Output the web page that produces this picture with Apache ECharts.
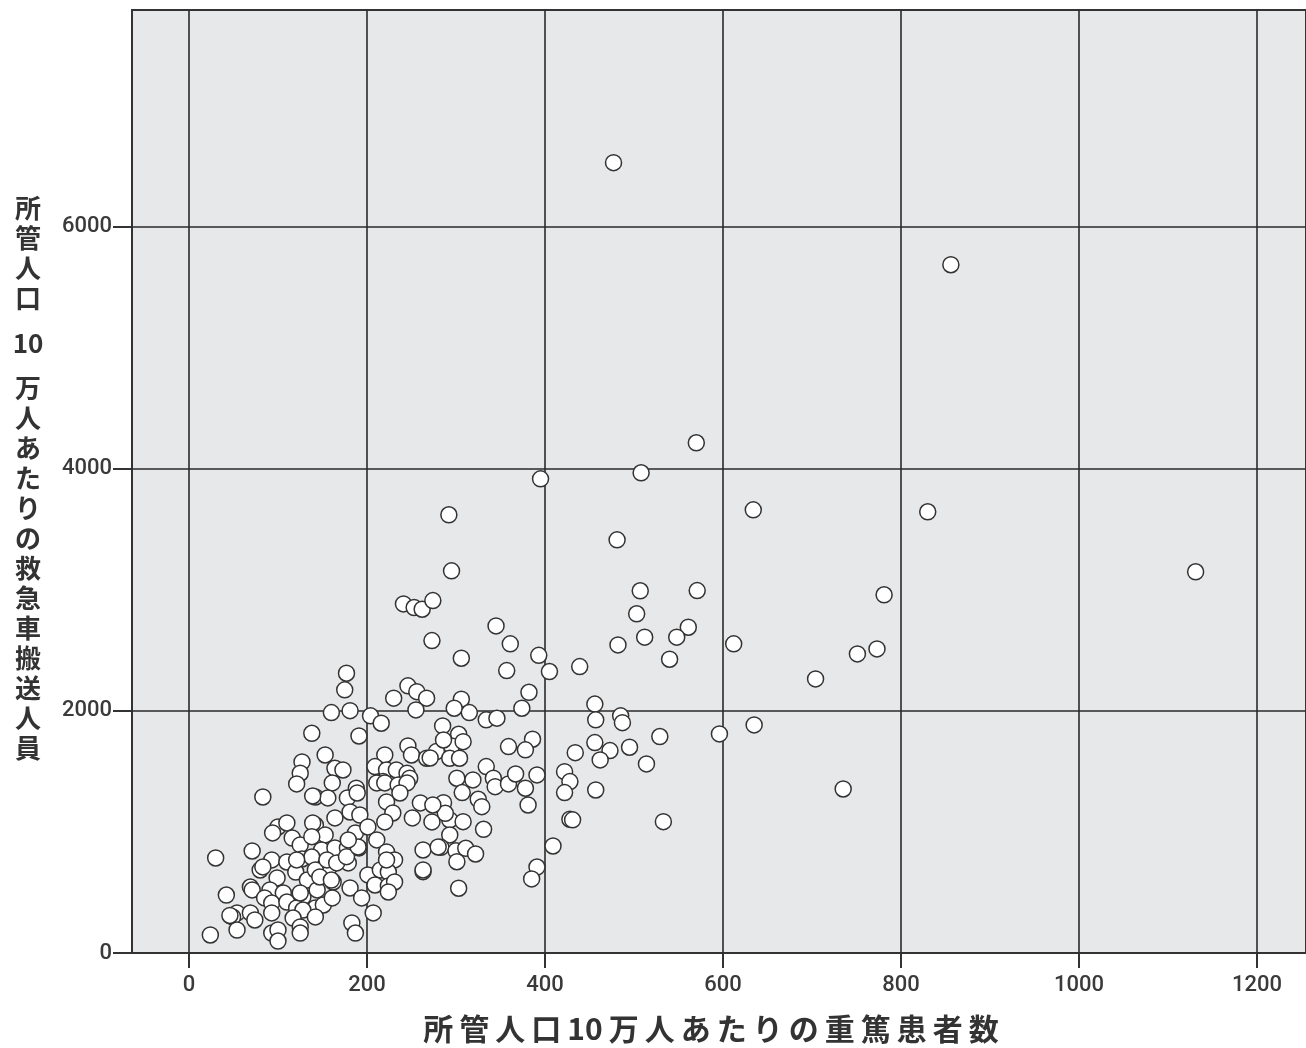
<!DOCTYPE html>
<html><head><meta charset="utf-8">
<script src="https://cdn.jsdelivr.net/npm/echarts@6/dist/echarts.min.js"></script>
<style>html,body{margin:0;padding:0;background:#fff}#c{width:1306px;height:1048px}</style>
</head><body><div id="c"></div>
<script>
const xTicks = [0, 200, 400, 600, 800, 1000, 1200];
const yTicks = [0, 2000, 4000, 6000];
const xTitle = ['所','管','人','口','10','万','人','あ','た','り','の','重','篤','患','者','数'];
const yTitleTop = ['所','管','人','口'];
const yTitleDigits = '10';
const yTitleBottom = ['万','人','あ','た','り','の','救','急','車','搬','送','人','員'];
// [重篤患者数, 救急車搬送人員] per 100,000 population
const points = [
[477,6529],[856,5686],[570,4215],[508,3967],[395,3917],[634,3661],[830,3645],[292,3620],[481,3413],[1131,3149],
[295,3157],[507,2992],[571,2994],[781,2959],[241,2884],[253,2854],[262,2840],[274,2911],[503,2802],[345,2702],
[561,2691],[273,2581],[361,2554],[512,2609],[548,2609],[612,2554],[482,2545],[751,2471],[773,2512],[306,2435],
[393,2459],[540,2427],[357,2333],[405,2325],[439,2366],[704,2264],[177,2311],[175,2174],[246,2207],[382,2154],
[230,2105],[256,2159],[267,2105],[306,2097],[456,2056],[374,2022],[298,2022],[160,1986],[181,2002],[204,1959],
[315,1986],[334,1926],[346,1940],[216,1898],[457,1926],[485,1959],[487,1903],[635,1884],[596,1810],[138,1815],
[191,1793],[285,1876],[303,1807],[295,1711],[386,1766],[359,1705],[378,1678],[434,1655],[529,1788],[473,1672],
[495,1700],[456,1738],[462,1595],[514,1562],[422,1498],[428,1416],[422,1325],[457,1347],[735,1355],[533,1085],
[409,884],[391,710],[385,612],[428,1105],[431,1100],[255,2008],
[153,1636],[164,1526],[173,1512],[220,1636],[209,1540],[222,1512],[233,1512],[246,1711],[250,1636],[267,1609],
[278,1664],[245,1485],[248,1444],[218,1416],[188,1361],[127,1578],[125,1485],[286,1760],[308,1746],[293,1609],
[304,1609],[271,1611],[334,1540],[301,1444],[319,1430],[342,1444],[344,1374],[359,1397],[367,1479],[378,1361],
[391,1471],[307,1325],[325,1270],[329,1209],[381,1223],[286,1242],[293,1099],[308,1085],[288,1154],[331,1022],
[293,975],[283,873],[300,845],[301,754],[311,865],[322,818],[303,535],[263,672],
[161,1405],[142,1289],[156,1281],[178,1281],[189,1322],[211,1405],[220,1405],[235,1388],[245,1405],[237,1322],
[222,1248],[260,1240],[274,1223],[251,1116],[273,1083],[229,1157],[220,1083],[164,1116],[181,1165],[192,1140],
[142,1058],[153,975],[187,992],[201,1041],[211,934],[263,851],[280,876],[263,686],[149,851],[164,868],
[178,868],[191,868],[222,835],[231,769],[179,744],[149,694],[158,711],[201,645],[215,686],[224,669],
[209,562],[224,554],[231,587],[224,504],[181,537],[162,587],[142,372],[151,397],[161,455],[194,455],
[207,331],[183,248],[187,165],
[83,1289],[121,1397],[139,1297],[100,1041],[94,992],[110,1074],[116,950],[125,893],[139,1074],[30,785],
[71,843],[93,769],[110,752],[127,777],[138,793],[80,686],[99,620],[120,669],[133,603],[142,686],
[69,545],[71,521],[91,521],[106,496],[128,463],[144,521],[42,479],[85,455],[93,413],[110,421],
[54,331],[49,298],[69,331],[74,273],[93,331],[121,372],[128,355],[117,289],[54,190],[24,149],
[93,165],[100,190],[100,99],[125,215],[125,165],[142,298],[147,628],[125,496],[83,711],
[155,769],[166,744],[160,603],[177,796],[190,876],[179,934],[222,769],[138,961],[121,769],[46,310]
];

const chart = echarts.init(document.getElementById('c'), null, {renderer: 'canvas'});
const tickFont = {fontSize: 22, color: '#3a3a3a', fontFamily: 'Roboto', fontWeight: 500, formatter: v => String(v)};
const titleFont = 'bold 26px "Noto Sans CJK JP"';
const graphics = [];
function addChar(ch, cy) {
  graphics.push({type: 'text', x: 28, y: cy, style: {text: ch, textAlign: 'center', textVerticalAlign: 'middle', font: titleFont, fill: '#333'}});
}
yTitleTop.forEach((ch, i) => addChar(ch, 208 + 30 * i));
addChar(yTitleDigits, 343);
yTitleBottom.forEach((ch, i) => addChar(ch, 388 + 30 * i));
graphics.push({type: 'text', x: 711, y: 1029, style: {text: xTitle.join('\u2009'), textAlign: 'center', textVerticalAlign: 'middle', font: 'bold 30px "Noto Sans CJK JP"', fill: '#333'}});

chart.setOption({
  animation: false,
  grid: {left: 132, top: 10, right: 0, bottom: 95, show: true, backgroundColor: '#e7e8ea', borderColor: '#333', borderWidth: 2, outerBoundsMode: 'none', containLabel: false},
  xAxis: {
    type: 'value', min: -64, max: 1255,
    splitLine: {show: false},
    axisLine: {show: true, onZero: false, lineStyle: {color: '#333', width: 2}},
    axisTick: {show: true, customValues: xTicks, length: 15, lineStyle: {color: '#333', width: 2}},
    axisLabel: Object.assign({customValues: xTicks, margin: 21}, tickFont)
  },
  yAxis: {
    type: 'value', min: 0, max: 7790,
    splitLine: {show: false},
    axisLine: {show: true, onZero: false, lineStyle: {color: '#333', width: 2}},
    axisTick: {show: true, customValues: yTicks, length: 19, lineStyle: {color: '#333', width: 2}},
    axisLabel: Object.assign({customValues: yTicks, margin: 20}, tickFont)
  },
  graphic: graphics,
  series: [
    {
      type: 'scatter', data: [], z: 1, silent: true,
      markLine: {
        z: 1, silent: true, symbol: ['none', 'none'], animation: false,
        label: {show: false},
        lineStyle: {color: '#2a2a2a', width: 1.6, type: 'solid'},
        emphasis: {disabled: true},
        data: xTicks.map(v => ({xAxis: v})).concat(yTicks.filter(v => v > 0).map(v => ({yAxis: v})))
      }
    },
    {
      type: 'scatter', z: 3, data: points, symbol: 'circle', symbolSize: 16,
      itemStyle: {color: '#ffffff', borderColor: '#333', borderWidth: 1.5, opacity: 1}
    }
  ]
});
</script></body></html>
